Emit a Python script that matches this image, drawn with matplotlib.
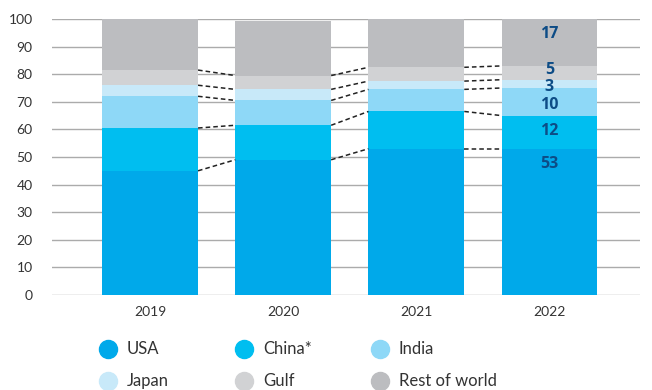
import matplotlib.pyplot as plt
from matplotlib.lines import Line2D
import numpy as np

plt.rcParams["font.family"] = ["Lato", "DejaVu Sans"]

years = ["2019", "2020", "2021", "2022"]
series = ["USA", "China*", "India", "Japan", "Gulf", "Rest of world"]
usa = [45, 49, 53, 53]
china = [15.5, 12.5, 13.5, 12]
india = [11.5, 9, 8, 10]
japan = [4, 4, 3, 3]
gulf = [5.5, 5, 5, 5]
rest = [18.5, 19.8, 17.5, 17]
label_2022 = ["53", "12", "10", "3", "5", "17"]

colors = ["#00A9EA", "#00BEF0", "#8ED8F7", "#C8E9F9", "#D1D2D4", "#BCBDC0"]
values = np.array([usa, china, india, japan, gulf, rest])

fig = plt.figure(figsize=(6.52, 3.9), dpi=100)
ax = fig.add_axes([52 / 652, 95 / 390, 588 / 652, 276 / 390])

x = np.arange(len(years))
w = 0.72
bottoms = np.zeros(len(years))
tops = []
for vals, c in zip(values, colors):
    ax.bar(x, vals, w, bottom=bottoms, color=c, zorder=2)
    bottoms = bottoms + vals
    tops.append(bottoms.copy())

# dashed connectors between segment tops (skip the 100% top)
for t in tops[:-1]:
    for i in range(len(years) - 1):
        ax.plot([x[i] + w / 2, x[i + 1] - w / 2], [t[i], t[i + 1]],
                color="#222222", lw=1.1, ls=(0, (3, 2)), zorder=3)

# value labels on last bar (thin segments nudged apart a little)
nudge = [0, 0, -1.2, -1.2, 1.0, 0]
prev = 0
for k, t in enumerate(tops):
    top = t[-1]
    h = top - prev
    y = top - min(h / 2, 5.5) + nudge[k]
    ax.text(x[-1], y, label_2022[k], ha="center", va="center", fontsize=11.5,
            fontweight="bold", family=["Open Sans", "DejaVu Sans"],
            color="#0D4C86", zorder=4)
    prev = top

ax.set_xlim(-0.737, 3.68)
ax.set_ylim(0, 100)
ax.set_yticks(range(0, 101, 10))
ax.set_xticks(x)
ax.set_xticklabels(years)
ax.tick_params(length=0, labelsize=10, colors="#333333")
ax.tick_params(axis="y", pad=14)
ax.tick_params(axis="x", pad=8)
ax.grid(axis="y", color="#ABABAB", lw=1, zorder=0)
ax.set_axisbelow(True)
for s in ax.spines.values():
    s.set_visible(False)

# legend
leg_x = [108, 244, 380]
leg_y = [349, 381]
for k, (name, c) in enumerate(zip(series, colors)):
    px = leg_x[k % 3] / 652
    py = 1 - leg_y[k // 3] / 390
    fig.add_artist(Line2D([px], [py], marker="o", markersize=13, color=c,
                          lw=0, transform=fig.transFigure))
    fig.text(px + 19 / 652, py, name, fontsize=12, color="#333333",
             va="center", ha="left")

fig.savefig("out.png", dpi=100)
